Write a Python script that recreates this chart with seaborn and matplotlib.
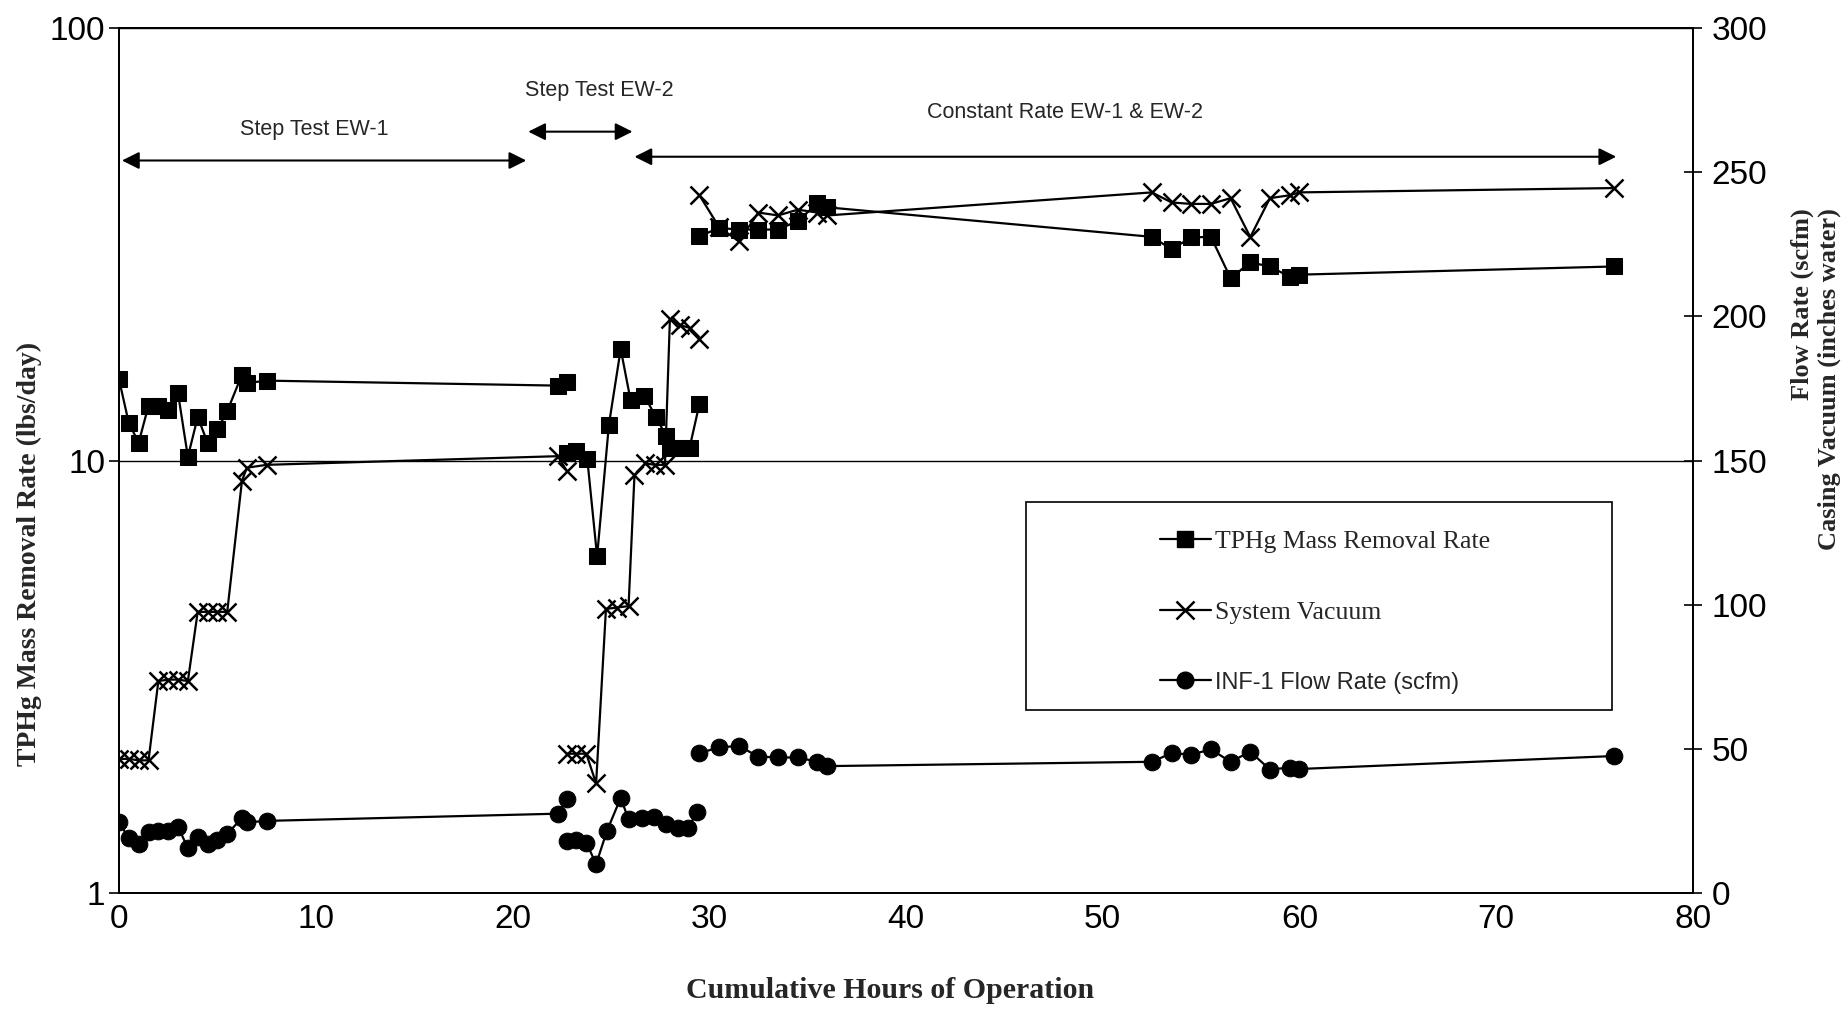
"""
plot.py - TPHg mass removal rate, system vacuum and INF-1 flow rate vs cumulative hours.
"""
import matplotlib
matplotlib.use("Agg")
import matplotlib.pyplot as plt
import numpy as np
import pandas as pd
import seaborn as sns
from matplotlib import ticker
from matplotlib.lines import Line2D
from matplotlib.patches import Rectangle

# --- data --------------------------------------------------------------------
# run 1: step test EW-1 (plus the first readings of EW-2)
hours_run1 = [0, 0.5, 1, 1.5, 2, 2.5, 3, 3.5, 4, 4.5, 5, 5.5, 6.25, 6.5, 7.5, 22.3, 22.75]
tphg_run1 = [15.4, 12.2, 11.0, 13.4, 13.4, 13.1, 14.3, 10.2, 12.6, 11.0, 11.8, 13.0,
             15.8, 15.1, 15.3, 14.9, 15.2]
vacuum_run1 = [46.5, 46.5, 46, 46, 73.5, 74, 74, 73.5, 97.5, 97.5, 97.5, 97.5,
               143, 147.5, 148.5, 151.5, 146.5]
flow_run1 = [24.5, 19, 17, 21, 21.5, 21.5, 23, 15.5, 19.5, 17, 18.5, 20.5, 26, 24.5, 25, 27.5, 32.5]

# run 2: step test EW-2
tphg_hours_run2 = [22.75, 23.25, 23.8, 24.3, 24.9, 25.5, 26.0, 26.7, 27.3, 27.8, 28.0, 28.5, 29.0, 29.5]
tphg_run2 = [10.4, 10.5, 10.1, 6.0, 12.1, 18.1, 13.8, 14.1, 12.6, 11.4, 10.7, 10.7, 10.7, 13.5]
vacuum_hours_run2 = [22.75, 23.25, 23.75, 24.25, 24.75, 25.3, 25.9, 26.2, 26.75, 27.25, 27.75,
                     28.0, 28.5, 29.0, 29.5]
vacuum_run2 = [48.3, 48.3, 48.3, 38, 98.5, 99, 99.5, 145, 149, 148.5, 148.5, 199, 197, 196, 192]
flow_hours_run2 = [22.75, 23.25, 23.75, 24.25, 24.8, 25.5, 25.9, 26.6, 27.2, 27.8, 28.4, 28.9, 29.4]
flow_run2 = [18, 18.5, 17.5, 10, 21.5, 33, 25.5, 26, 26.5, 24, 22.5, 22.5, 28]

# run 3: constant rate EW-1 & EW-2
hours_run3 = [29.5, 30.5, 31.5, 32.5, 33.5, 34.5, 35.5, 36.0, 52.5, 53.5, 54.5, 55.5,
              56.5, 57.5, 58.5, 59.5, 60.0, 76.0]
tphg_run3 = [33.0, 34.5, 34.2, 34.2, 34.2, 35.8, 39.3, 38.5, 32.9, 30.8, 32.8, 32.9,
             26.4, 28.7, 28.1, 26.6, 26.9, 28.1]
vacuum_run3 = [242, 231, 226, 236, 235, 237, 236, 235, 243, 239.5, 239, 239,
               241, 227.5, 241, 242, 243, 244.5]
flow_run3 = [48.5, 50.5, 51, 47.3, 47, 47, 45.5, 44, 45.5, 48.5, 48, 49.8,
             45.5, 49, 42.8, 43.5, 43, 47.5]

x_ticks = [0, 10, 20, 30, 40, 50, 60, 70, 80]
left_ticks = [1, 10, 100]
right_ticks = [0, 50, 100, 150, 200, 250, 300]

legend_labels = ["TPHg Mass Removal Rate", "System Vacuum", "INF-1 Flow Rate (scfm)"]

SANS = ["Liberation Sans", "DejaVu Sans"]
SERIF = ["Liberation Serif", "DejaVu Serif"]


def runs(*pairs) -> pd.DataFrame:
    frames = []
    for i, (hours, values) in enumerate(pairs):
        frames.append(pd.DataFrame({"hours": hours, "value": values, "run": i}))
    return pd.concat(frames, ignore_index=True)


tphg_df = runs((hours_run1, tphg_run1), (tphg_hours_run2, tphg_run2), (hours_run3, tphg_run3))
vacuum_df = runs((hours_run1, vacuum_run1), (vacuum_hours_run2, vacuum_run2), (hours_run3, vacuum_run3))
flow_df = runs((hours_run1, flow_run1), (flow_hours_run2, flow_run2), (hours_run3, flow_run3))

sns.set_style("white")
plt.rcParams["font.family"] = SANS

fig = plt.figure(figsize=(18.48, 10.09), dpi=100)
ax = fig.add_axes([0.0644, 0.115, 0.8517, 0.8572])
ax2 = ax.twinx()

line_kw = dict(units="run", estimator=None, color="black", linewidth=1.6,
               markeredgecolor="black", legend=False)
sns.lineplot(data=tphg_df, x="hours", y="value", ax=ax, marker="s", markersize=12, **line_kw)
sns.lineplot(data=vacuum_df, x="hours", y="value", ax=ax2, marker="x", markersize=13,
             markeredgewidth=1.8, **line_kw)
sns.lineplot(data=flow_df, x="hours", y="value", ax=ax2, marker="o", markersize=12, **line_kw)

# left: log axis
ax.set_yscale("log")
ax.set_ylim(1, 100)
ax.set_xlim(0, 80)
ax.set_xticks(x_ticks)
ax.set_yticks(left_ticks)
ax.yaxis.set_minor_locator(ticker.NullLocator())
ax.yaxis.set_major_formatter(ticker.FuncFormatter(lambda v, _: f"{v:g}"))
ax.yaxis.grid(True, which="major", color="black", linewidth=1.0)
ax.set_xlabel("")
ax.set_ylabel("")
ax.tick_params(axis="y", direction="out", length=7, width=1.2, pad=3, labelsize=24, colors="black")
ax.tick_params(axis="x", direction="out", length=7, width=1.2, pad=1, labelsize=24, colors="black")

# right: linear axis
ax2.set_ylim(0, 300)
ax2.set_yticks(right_ticks)
ax2.set_ylabel("")
ax2.tick_params(axis="y", direction="inout", length=13, width=1.2, pad=7, labelsize=24, colors="black")

for a in (ax, ax2):
    for side in ("left", "right", "bottom", "top"):
        a.spines[side].set_color("black")
        a.spines[side].set_linewidth(1.3)

# phase annotations
arrow = dict(arrowstyle="<|-|>", color="black", lw=1.5, mutation_scale=26, shrinkA=0, shrinkB=0)
ax.annotate("", xy=(20.7, 49.4), xytext=(0.15, 49.4), arrowprops=arrow)
ax.annotate("", xy=(26.1, 57.6), xytext=(20.8, 57.6), arrowprops=arrow)
ax.annotate("", xy=(76.1, 50.4), xytext=(26.2, 50.4), arrowprops=arrow)
ax.text(9.9, 58.2, "Step Test EW-1", ha="center", va="center", fontsize=15.5)
ax.text(24.4, 71.7, "Step Test EW-2", ha="center", va="center", fontsize=15.5)
ax.text(48.1, 63.9, "Constant Rate EW-1 & EW-2", ha="center", va="center", fontsize=15.5)

# legend in a box
box = Rectangle((0.576, 0.2114), 0.3726, 0.2404, transform=ax2.transAxes,
                facecolor="white", edgecolor="black", linewidth=1.2, zorder=5)
ax2.add_patch(box)
handles = [
    Line2D([], [], color="black", lw=1.6, marker="s", markersize=12),
    Line2D([], [], color="black", lw=1.6, marker="x", markersize=13, markeredgewidth=1.8),
    Line2D([], [], color="black", lw=1.6, marker="o", markersize=12),
]
leg = ax2.legend(handles, legend_labels, loc="upper left", bbox_to_anchor=(0.653, 0.434),
                 frameon=False, fontsize=18.5, handlelength=2.0, handletextpad=0.15,
                 labelspacing=1.85, borderpad=0)
leg.set_zorder(6)
for txt, fam in zip(leg.get_texts(), [SERIF, SERIF, SANS]):
    txt.set_fontfamily(fam)
leg.get_texts()[2].set_fontsize(17)

# axis titles
fig.text(0.4816, 0.018, "Cumulative Hours of Operation", ha="center", va="center",
         fontsize=21.5, fontweight="bold", family=SERIF)
fig.text(0.016, 0.451, "TPHg Mass Removal Rate (lbs/day)", ha="center", va="center",
         rotation=90, fontsize=20, fontweight="bold", family=SERIF)
fig.text(0.975, 0.794, "Flow Rate (scfm)", ha="center", va="top",
         rotation=90, fontsize=19, fontweight="bold", family=SERIF)
fig.text(0.99, 0.794, "Casing Vacuum (inches water)", ha="center", va="top",
         rotation=90, fontsize=19, fontweight="bold", family=SERIF)

fig.savefig("out.png", dpi=100)
plt.close(fig)
